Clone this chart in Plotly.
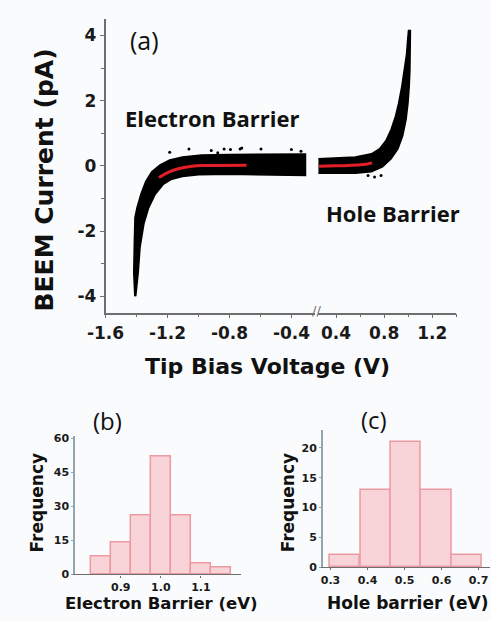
import plotly.graph_objects as go

W, H = 491, 621
def px(x): return x / W
def py(y): return 1 - y / H

# ---------------- data ----------------
# Panel (a): envelope of the dense BEEM data cloud, negative bias side
neg_upper_x = [-1.411, -1.418, -1.414, -1.41, -1.397, -1.372, -1.341, -1.302, -1.248, -1.186, -1.104, -0.98, -0.8, -0.6, -0.45, -0.31]
neg_upper_y = [-4.0, -3.28, -2.29, -1.58, -1.28, -0.87, -0.48, -0.18, 0.03, 0.18, 0.27, 0.33, 0.35, 0.36, 0.36, 0.36]
neg_lower_x = [-0.31, -0.5, -0.794, -1.0, -1.104, -1.178, -1.228, -1.279, -1.321, -1.352, -1.377, -1.389, -1.40, -1.405]
neg_lower_y = [-0.3, -0.28, -0.26, -0.27, -0.33, -0.42, -0.57, -0.87, -1.28, -1.77, -2.49, -3.28, -3.7, -4.0]
# positive bias side
pos_upper_x = [0.254, 0.56, 0.694, 0.76, 0.814, 0.858, 0.894, 0.92, 0.946, 0.968, 0.986, 0.994, 1.002]
pos_upper_y = [0.22, 0.27, 0.37, 0.52, 0.77, 1.12, 1.52, 1.92, 2.43, 2.93, 3.43, 3.83, 4.15]
pos_lower_x = [1.018, 1.018, 1.014, 1.008, 0.998, 0.982, 0.954, 0.914, 0.858, 0.786, 0.694, 0.56, 0.254]
pos_lower_y = [4.15, 3.43, 2.93, 2.43, 1.92, 1.42, 0.92, 0.52, 0.22, -0.03, -0.18, -0.23, -0.23]
# scattered outlier points
neg_out_x = [-1.186, -1.062, -0.918, -0.876, -0.835, -0.794, -0.732, -0.721, -0.597, -0.401, -0.339]
neg_out_y = [0.42, 0.52, 0.47, 0.40, 0.52, 0.50, 0.52, 0.55, 0.52, 0.50, 0.45]
pos_out_x = [0.666, 0.72, 0.774]
pos_out_y = [-0.30, -0.34, -0.30]
# fitted curves (red)
fit_neg_x = [-1.255, -1.186, -1.124, -1.042, -0.95, -0.69]
fit_neg_y = [-0.36, -0.18, -0.08, -0.01, 0.01, 0.02]
fit_pos_x = [0.26, 0.4, 0.5, 0.6, 0.65, 0.70]
fit_pos_y = [-0.01, 0.0, 0.01, 0.03, 0.05, 0.09]

# Panel (b): electron barrier histogram
eb_centers = [0.85, 0.90, 0.95, 1.00, 1.05, 1.10, 1.15]
eb_counts = [8, 14, 26, 52, 26, 5, 3]
eb_width = 0.05
# Panel (c): hole barrier histogram
hb_centers = [0.339, 0.422, 0.504, 0.586, 0.668]
hb_counts = [2, 13, 21, 13, 2]
hb_width = 0.082

# tick labels
a_yticks = [-4, -2, 0, 2, 4]
a_yticktext = ["-4", "-2", "0", "2", "4"]
a_xticks_left = [-1.6, -1.2, -0.8, -0.4]
a_xticktext_left = ["-1.6", "-1.2", "-0.8", "-0.4"]
a_xticks_right = [0.4, 0.8, 1.2]
a_xticktext_right = ["0.4", "0.8", "1.2"]
b_xticks = [0.9, 1.0, 1.1]
b_xticktext = ["0.9", "1.0", "1.1"]
b_yticks = [0, 15, 30, 45, 60]
c_xticks = [0.3, 0.4, 0.5, 0.6, 0.7]
c_xticktext = ["0.3", "0.4", "0.5", "0.6", "0.7"]
c_yticks = [0, 5, 10, 15, 20]

# ---------------- figure ----------------
BG = "#fafbfc"
AX = "#6e6e6e"
TF = "DejaVu Sans"
fig = go.Figure()

fig.add_trace(go.Scatter(x=neg_upper_x + neg_lower_x, y=neg_upper_y + neg_lower_y, fill="toself",
                         fillcolor="black", mode="lines", line=dict(color="black", width=1.5),
                         xaxis="x", yaxis="y", hoverinfo="skip"))
fig.add_trace(go.Scatter(x=neg_out_x, y=neg_out_y, mode="markers", marker=dict(color="black", size=3),
                         xaxis="x", yaxis="y"))
fig.add_trace(go.Scatter(x=fit_neg_x, y=fit_neg_y, mode="lines", line=dict(color="#e41e26", width=3, shape="spline"),
                         xaxis="x", yaxis="y"))
fig.add_trace(go.Scatter(x=pos_upper_x + pos_lower_x, y=pos_upper_y + pos_lower_y, fill="toself",
                         fillcolor="black", mode="lines", line=dict(color="black", width=1.5),
                         xaxis="x2", yaxis="y", hoverinfo="skip"))
fig.add_trace(go.Scatter(x=pos_out_x, y=pos_out_y, mode="markers", marker=dict(color="black", size=3),
                         xaxis="x2", yaxis="y"))
fig.add_trace(go.Scatter(x=fit_pos_x, y=fit_pos_y, mode="lines", line=dict(color="#e41e26", width=3, shape="spline"),
                         xaxis="x2", yaxis="y"))

bar_style = dict(marker=dict(color="#f8d3d7", line=dict(color="#ec9aa2", width=1.5)))
fig.add_trace(go.Bar(x=eb_centers, y=eb_counts, width=eb_width, xaxis="x3", yaxis="y3", **bar_style))
fig.add_trace(go.Bar(x=hb_centers, y=hb_counts, width=hb_width, xaxis="x4", yaxis="y4", **bar_style))

top_dom = [py(313.6), py(14.4)]
tick_a = dict(family=TF, size=17, color="#1a1a1a", weight="bold")
tick_s = dict(family=TF, size=11, color="#1a1a1a", weight="bold")

fig.update_layout(
    width=W, height=H, autosize=False, margin=dict(l=0, r=0, t=0, b=0),
    paper_bgcolor=BG, plot_bgcolor=BG, showlegend=False, bargap=0,
    xaxis=dict(domain=[px(90), px(307.7)], range=[-1.6, -0.25], anchor="y",
               tickvals=a_xticks_left, ticktext=a_xticktext_left, tickfont=tick_a,
               showline=True, linecolor=AX, linewidth=1.5, ticks="outside", ticklen=4, tickcolor=AX,
               minor=dict(dtick=0.2, tick0=-1.6, ticks="outside", ticklen=3, tickcolor=AX),
               showgrid=False, zeroline=False),
    xaxis2=dict(domain=[px(311), px(455)], range=[0.25, 1.4], anchor="y",
                tickvals=a_xticks_right, ticktext=a_xticktext_right, tickfont=tick_a,
                showline=True, linecolor=AX, linewidth=1.5, ticks="outside", ticklen=4, tickcolor=AX,
                minor=dict(dtick=0.2, tick0=0.4, ticks="outside", ticklen=3, tickcolor=AX),
                showgrid=False, zeroline=False),
    yaxis=dict(domain=top_dom, range=[-4.5, 4.5], anchor="x",
               tickvals=a_yticks, ticktext=a_yticktext, tickfont=tick_a,
               showline=True, linecolor=AX, linewidth=1.5, ticks="outside", ticklen=4, tickcolor=AX,
               minor=dict(dtick=1, tick0=-5, ticks="outside", ticklen=3, tickcolor=AX),
               showgrid=False, zeroline=False),
    xaxis3=dict(domain=[px(58.3), px(231)], range=[0.786, 1.2], anchor="y3",
                tickvals=b_xticks, ticktext=b_xticktext, tickfont=tick_s,
                showline=True, linecolor=AX, linewidth=1.2, ticks="outside", ticklen=2, tickcolor=AX,
                showgrid=False, zeroline=False),
    yaxis3=dict(domain=[py(580.7), py(440)], range=[0, 60.7], anchor="x3",
                tickvals=b_yticks, tickfont=tick_s,
                showline=True, linecolor="#93a6b0", linewidth=1.5, ticks="outside", ticklen=2, tickcolor="#93a6b0",
                showgrid=False, zeroline=False),
    xaxis4=dict(domain=[px(316), px(490)], range=[0.279, 0.731], anchor="y4",
                tickvals=c_xticks, ticktext=c_xticktext, tickfont=tick_s,
                showline=True, linecolor=AX, linewidth=1.2, ticks="outside", ticklen=2, tickcolor=AX,
                showgrid=False, zeroline=False),
    yaxis4=dict(domain=[py(573.3), py(433.3)], range=[0, 23], anchor="x4",
                tickvals=c_yticks, tickfont=tick_s,
                showline=True, linecolor="#93a6b0", linewidth=1.5, ticks="outside", ticklen=2, tickcolor="#93a6b0",
                showgrid=False, zeroline=False),
)

def ann(text, x, y, size, family=TF, bold=True, angle=0, color="#111111"):
    fig.add_annotation(text=text, x=px(x), y=py(y), xref="paper", yref="paper", showarrow=False,
                       xanchor="center", yanchor="middle", textangle=angle, borderpad=0,
                       font=dict(family=family, size=size, color=color, weight="bold" if bold else "normal"))

ann("BEEM Current (pA)", 27, 178, 25, angle=-90)
ann("Tip Bias Voltage (V)", 259, 369, 22)
ann("(a)", 131, 36, 25, family="Open Sans", bold=False)
ann("Electron Barrier", 201, 115, 22, family="Open Sans")
ann("Hole Barrier", 389, 212, 22, family="Open Sans")
ann("//", 309, 312, 13, family="DejaVu Sans", bold=False, color=AX)
ann("(b)", 92, 424, 24, family="Open Sans", bold=False)
ann("Frequency", 19, 507, 17, angle=-90)
ann("Electron Barrier (eV)", 148, 610, 16.5)
ann("(c)", 369, 423, 24, family="Open Sans", bold=False)
ann("Frequency", 280, 507, 17, angle=-90)
ann("Hole barrier (eV)", 404, 610, 17)

fig.write_html("out.html")
